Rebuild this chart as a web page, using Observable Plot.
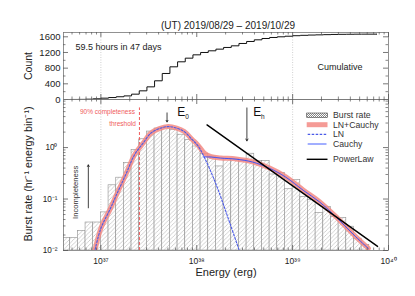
<!DOCTYPE html>
<html><head><meta charset="utf-8">
<script src="https://cdn.jsdelivr.net/npm/d3@7"></script>
<script src="https://cdn.jsdelivr.net/npm/@observablehq/plot@0.6"></script>
<style>
body{margin:0;background:#fff;}
#wrap{position:relative;width:415px;height:296px;overflow:hidden;background:#fff;}
#wrap svg{position:absolute;left:0;overflow:visible;}
</style></head><body><div id="wrap"></div>
<script>
// ---------- data (exponents are log10 of energy in erg) ----------
const binEdges = [36.60,36.68,36.76,36.84,36.92,37.00,37.08,37.16,37.24,37.32,37.40,37.48,37.56,37.64,37.72,37.80,37.88,37.96,38.04,38.12,38.20,38.28,38.36,38.44,38.52,38.60,38.68,38.76,38.84,38.92,39.00,39.08,39.16,39.24,39.32,39.40,39.48,39.56,39.64,39.72,39.80];
const burstRate = [0.0175,0.0175,0.024,0.035,0.035,0.055,0.185,0.26,0.50,0.90,1.45,2.05,2.35,2.45,2.2,1.78,1.41,1.05,0.75,0.67,0.43,0.6,0.6,0.58,0.76,0.55,0.55,0.3,0.32,0.155,0.235,0.11,0.096,0.054,0.07,0.045,0.043,0.029,0.017,0.0129];
const cumCount = [0,1,3,8,18,34,50,70,92,136,221,323,477,664,834,962,1055,1140,1200,1243,1285,1328,1370,1430,1481,1523,1557,1583,1600,1615,1628,1638,1645,1650,1655,1660,1663,1665,1667,1668];
const cumEnd = 39.88;

const sumLogE = [36.94,37.00,37.10,37.17,37.26,37.35,37.44,37.52,37.61,37.70,37.79,37.87,37.95,38.01,38.08,38.15,38.25,38.41,38.58,38.76,38.93,39.11,39.28,39.46,39.63,39.79];
const sumRate = [0.0105,0.027,0.066,0.13,0.30,0.72,1.22,1.9,2.34,2.57,2.4,2.05,1.45,1.13,0.78,0.67,0.63,0.6,0.53,0.40,0.27,0.15,0.089,0.044,0.021,0.011];
const lnLogE = [36.94,37.00,37.10,37.17,37.26,37.35,37.44,37.52,37.61,37.70,37.79,37.87,37.95,38.01,38.08,38.17,38.254,38.35,38.44];
const lnRate = [0.0105,0.027,0.066,0.13,0.30,0.72,1.22,1.9,2.34,2.56,2.39,2.04,1.44,1.1,0.64,0.27,0.105,0.032,0.0105];
const cauchyLogE = [38.07,38.15,38.25,38.41,38.58,38.76,38.93,39.11,39.28,39.46,39.63,39.79];
const cauchyRate = [0.66,0.655,0.625,0.595,0.525,0.395,0.265,0.148,0.088,0.0435,0.0208,0.0109];
const powerLogE = [38.107,39.886];
const powerRate = [2.76,0.012];

const E0 = 37.69, Eh = 38.523, Ethr = 37.402;
const xTickExps = [37,38,39,40];
const yTickExps = [-2,-1,0];
const countTicks = [0,400,800,1200,1600];
const legendLabels = ["Burst rate","LN+Cauchy","LN","Cauchy","PowerLaw"];

// ---------- helpers ----------
const FONT = '"Liberation Sans", Arial, sans-serif';
const E = v => 10 ** v;
const supMap = {"-":"\u207B","0":"\u2070","1":"\u00B9","2":"\u00B2","3":"\u00B3","4":"\u2074","5":"\u2075","6":"\u2076","7":"\u2077","8":"\u2078","9":"\u2079"};
const sup = n => String(n).split("").map(c => supMap[c]).join("");
const W = 415, ML = 63, MR = 27, IW = W - ML - MR;
const xDomain = [E(36.61), E(40)];
const majorX = xTickExps.map(E);
const minorX = [];
for (let n = 36; n < 40; n++) for (let m = 2; m <= 9; m++) { const v = m * 10 ** n; if (v > xDomain[0] && v < xDomain[1]) minorX.push(v); }
const TC = "#555";
function xTickMarks(H) {
  return [
    Plot.ruleX(majorX, {insetTop: H - 5, stroke: TC, strokeWidth: 0.8}),
    Plot.ruleX(majorX, {insetBottom: H - 5, stroke: TC, strokeWidth: 0.8}),
    Plot.ruleX(minorX, {insetTop: H - 2.5, stroke: TC, strokeWidth: 0.7}),
    Plot.ruleX(minorX, {insetBottom: H - 2.5, stroke: TC, strokeWidth: 0.7})
  ];
}
function yTickMarks(major, minor) {
  return [
    Plot.ruleY(major, {insetRight: IW - 5, stroke: TC, strokeWidth: 0.8}),
    Plot.ruleY(major, {insetLeft: IW - 5, stroke: TC, strokeWidth: 0.8}),
    Plot.ruleY(minor, {insetRight: IW - 2.5, stroke: TC, strokeWidth: 0.7}),
    Plot.ruleY(minor, {insetLeft: IW - 2.5, stroke: TC, strokeWidth: 0.7})
  ];
}
const wrap = document.getElementById("wrap");

// ---------- top panel: cumulative ----------
const topH = 99, topMT = 32, topIH = topH - topMT;
const cumData = cumCount.map((c, i) => ({e: E(binEdges[i]), c}));
cumData.push({e: E(cumEnd), c: cumCount[cumCount.length - 1]});
const countMinor = [200, 600, 1000, 1400];
const topPlot = Plot.plot({
  width: W, height: topH, marginLeft: ML, marginRight: MR, marginTop: topMT, marginBottom: 0,
  style: {fontFamily: FONT, background: "transparent", overflow: "visible", color: "#222"},
  x: {type: "log", domain: xDomain, axis: null},
  y: {domain: [0, 1710], axis: null},
  marks: [
    Plot.ruleX([E(37), E(39)], {stroke: "#bbb", strokeWidth: 0.7, strokeDasharray: "1,1.5"}),
    Plot.line(cumData, {x: "e", y: "c", curve: "step-after", stroke: "#111", strokeWidth: 1, clip: true}),
    Plot.frame({stroke: "#777", strokeWidth: 0.8}),
    ...xTickMarks(topIH),
    ...yTickMarks(countTicks, countMinor),
    Plot.axisY(countTicks, {anchor: "left", tickSize: 0, tickPadding: 3, fontSize: 9.5, label: null, fill: "#222", tickFormat: d => String(d)}),
    Plot.text(["Count"], {frameAnchor: "left", dx: -35, rotate: -90, textAnchor: "middle", fontSize: 10.5, fill: "#222"}),
    Plot.text(["(UT) 2019/08/29 \u2013 2019/10/29"], {frameAnchor: "top", dx: 2, dy: -11, textAnchor: "middle", fontSize: 10, fill: "#222"}),
    Plot.text(["59.5 hours in 47 days"], {frameAnchor: "top-left", dx: 12, dy: 11, textAnchor: "start", fontSize: 9, fill: "#222"}),
    Plot.text(["Cumulative"], {frameAnchor: "right", dx: -26, dy: 1.5, textAnchor: "end", fontSize: 9, fill: "#222"})
  ]
});
topPlot.style.top = "0px";
wrap.appendChild(topPlot);

// ---------- bottom panel: burst rate ----------
const botH = 197, botMB = 46, botIH = botH - botMB;
const bars = burstRate.map((r, i) => ({x1: E(binEdges[i]), x2: E(binEdges[i + 1]), r}));
const pts = (xs, ys) => xs.map((v, i) => ({x: E(v), y: ys[i]}));
const majorY = yTickExps.map(E);
const minorY = [];
for (let n = -2; n <= 0; n++) for (let m = 2; m <= 9; m++) { const v = m * 10 ** n; if (v < 8.6) minorY.push(v); }
const red = "#ef5b5b";
const salmon = "#f38a84";
const botPlot = Plot.plot({
  width: W, height: botH, marginLeft: ML, marginRight: MR, marginTop: 0, marginBottom: botMB,
  style: {fontFamily: FONT, background: "transparent", overflow: "visible", color: "#222"},
  x: {type: "log", domain: xDomain, axis: null},
  y: {type: "log", domain: [0.01, 8.6], axis: null},
  marks: [
    Plot.ruleX([E(37), E(39)], {stroke: "#bbb", strokeWidth: 0.7, strokeDasharray: "1,1.5"}),
    Plot.rect(bars, {x1: "x1", x2: "x2", y1: 0.01, y2: "r", fill: "url(#hatch)", stroke: "#8f8f8f", strokeWidth: 0.6, clip: true}),
    Plot.ruleX([E(Ethr)], {y1: 0.01, y2: 5.9, stroke: red, strokeWidth: 1, strokeDasharray: "3,2"}),
    Plot.line(pts(sumLogE, sumRate), {x: "x", y: "y", curve: "catmull-rom", stroke: salmon, strokeOpacity: 0.85, strokeWidth: 5, clip: true}),
    Plot.line(pts(lnLogE, lnRate), {x: "x", y: "y", curve: "catmull-rom", stroke: "#4a5ae8", strokeWidth: 1.1, strokeDasharray: "2,1.6", clip: true}),
    Plot.line(pts(cauchyLogE, cauchyRate), {x: "x", y: "y", curve: "catmull-rom", stroke: "#2f4cff", strokeWidth: 0.9, clip: true}),
    Plot.line(pts(powerLogE, powerRate), {x: "x", y: "y", stroke: "#000", strokeWidth: 1.4}),
    Plot.arrow([{x1: E(E0), y1: 4.72, x2: E(E0), y2: 3.15}], {x1: "x1", y1: "y1", x2: "x2", y2: "y2", stroke: "#111", strokeWidth: 0.8, headLength: 3.5}),
    Plot.arrow([{x1: E(Eh), y1: 5.9, x2: E(Eh), y2: 1.35}], {x1: "x1", y1: "y1", x2: "x2", y2: "y2", stroke: "#111", strokeWidth: 0.8, headLength: 4}),
    Plot.arrow([{x1: E(36.869), y1: 0.0675, x2: E(36.869), y2: 0.461}], {x1: "x1", y1: "y1", x2: "x2", y2: "y2", stroke: "#111", strokeWidth: 0.8, headLength: 3.5}),
    Plot.text([{x: E(37.838), y: 4.93, t: "E"}, {x: E(38.631), y: 4.97, t: "E"}], {x: "x", y: "y", text: "t", fontSize: 12, fill: "#111"}),
    Plot.text([{x: E(37.898), y: 3.95, t: "0"}, {x: E(38.689), y: 3.9, t: "h"}], {x: "x", y: "y", text: "t", fontSize: 6.5, fill: "#111"}),
    Plot.text([{x: E(37.355), y: 5.0, t: "90% completeness"}, {x: E(37.365), y: 2.88, t: "threshold"}], {x: "x", y: "y", text: "t", textAnchor: "end", fontSize: 6.5, fill: red}),
    Plot.text([{x: E(36.733), y: 0.135, t: "Incompleteness"}], {x: "x", y: "y", text: "t", rotate: -90, textAnchor: "middle", fontSize: 7.6, fill: "#333"}),
    Plot.frame({stroke: "#777", strokeWidth: 0.8}),
    ...xTickMarks(botIH),
    ...yTickMarks(majorY, minorY),
    Plot.axisX(majorX, {anchor: "bottom", tickSize: 0, tickPadding: 7, fontSize: 8.5, label: null, fill: "#222", tickFormat: d => "10" + sup(Math.round(Math.log10(d)))}),
    Plot.axisY(majorY, {anchor: "left", tickSize: 0, tickPadding: 6, fontSize: 8.2, label: null, fill: "#222", tickFormat: d => "10" + sup(Math.round(Math.log10(d)))}),
    Plot.text(["Energy (erg)"], {frameAnchor: "bottom", dy: 25, textAnchor: "middle", fontSize: 11, fill: "#222"}),
    Plot.text(["Burst rate (hr\u207B\u00B9 energy bin\u207B\u00B9)"], {frameAnchor: "left", dx: -35, dy: -1, rotate: -90, textAnchor: "middle", fontSize: 10.8, fill: "#222"})
  ]
});
d3.select(botPlot).insert("defs", ":first-child").html(
  '<pattern id="hatch" patternUnits="userSpaceOnUse" width="4.2" height="4.2">' +
  '<rect width="4.2" height="4.2" fill="#fff"/>' +
  '<path d="M-1,1 l2,-2 M0,4.2 l4.2,-4.2 M3.2,5.2 l2,-2" stroke="#aaa" stroke-width="0.55"/></pattern>' +
  '<pattern id="hatchDense" patternUnits="userSpaceOnUse" width="2" height="2">' +
  '<rect width="2" height="2" fill="#fff"/>' +
  '<path d="M-0.5,0.5 l1,-1 M0,2 l2,-2 M1.5,2.5 l1,-1" stroke="#333" stroke-width="0.6"/></pattern>');
botPlot.style.top = "99px";
wrap.appendChild(botPlot);

// ---------- legend ----------
const leg = d3.create("svg").attr("width", W).attr("height", 296)
  .style("position", "absolute").style("left", "0px").style("top", "0px")
  .attr("font-family", FONT).attr("font-size", 8.7);
const ly = [115, 124.7, 134.3, 144, 159.3];
const sx1 = 306.7, sx2 = 327.5, tx = 333;
leg.append("rect").attr("x", sx1).attr("y", 113).attr("width", sx2 - sx1).attr("height", 4.5)
  .attr("fill", "url(#hatchDense)").attr("stroke", "#444").attr("stroke-width", 0.6);
leg.append("line").attr("x1", sx1).attr("x2", sx2).attr("y1", ly[1]).attr("y2", ly[1]).attr("stroke", salmon).attr("stroke-opacity", 0.85).attr("stroke-width", 5);
leg.append("line").attr("x1", sx1 + 1).attr("x2", sx2 - 1).attr("y1", ly[2]).attr("y2", ly[2]).attr("stroke", "#4a5ae8").attr("stroke-width", 1.2).attr("stroke-dasharray", "2.5,1.5");
leg.append("line").attr("x1", sx1 + 1).attr("x2", sx2 - 1).attr("y1", ly[3]).attr("y2", ly[3]).attr("stroke", "#2f4cff").attr("stroke-width", 0.9);
leg.append("line").attr("x1", sx1).attr("x2", sx2).attr("y1", ly[4]).attr("y2", ly[4]).attr("stroke", "#000").attr("stroke-width", 1.4);
legendLabels.forEach((t, i) => leg.append("text").attr("x", tx).attr("y", ly[i]).attr("dy", "0.35em").attr("fill", "#333").text(t));
wrap.appendChild(leg.node());
</script></body></html>
